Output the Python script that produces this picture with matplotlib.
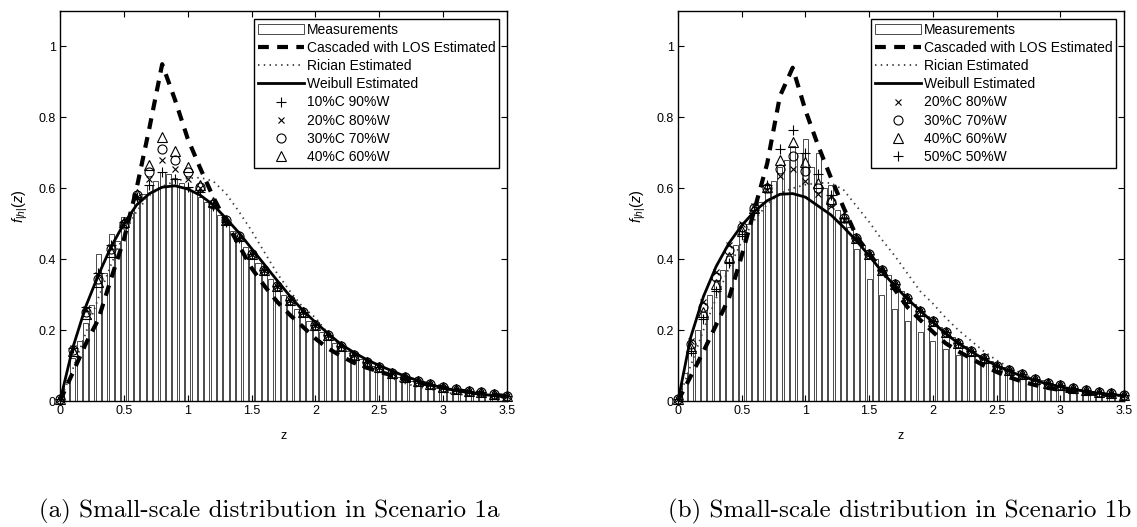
import numpy as np
import matplotlib
matplotlib.use("Agg")
import matplotlib.pyplot as plt

plt.rcParams['font.family'] = ['Liberation Sans', 'DejaVu Sans']
plt.rcParams['mathtext.fontset'] = 'custom'
plt.rcParams['mathtext.rm'] = 'Liberation Sans'
plt.rcParams['mathtext.it'] = 'Liberation Sans:italic'

# ---- data -------------------------------------------------------------
# curve / marker abscissa (step 0.1) and histogram bin centres (step 0.05)
z_pts = [round(0.1 * i, 2) for i in range(36)]
z_bins = [round(0.05 * i, 2) for i in range(1, 71)]

# Scenario 1a
meas_a = [0.06, 0.12, 0.17, 0.22, 0.27, 0.415, 0.36, 0.47, 0.45, 0.52,
          0.53, 0.575, 0.585, 0.61, 0.62, 0.645, 0.64, 0.63, 0.615, 0.60,
          0.59, 0.575, 0.56, 0.545, 0.525, 0.50, 0.48, 0.455, 0.435, 0.41,
          0.39, 0.365, 0.345, 0.32, 0.30, 0.28, 0.26, 0.245, 0.225, 0.21,
          0.195, 0.18, 0.165, 0.152, 0.14, 0.128, 0.118, 0.108, 0.098, 0.09,
          0.082, 0.075, 0.068, 0.062, 0.056, 0.05, 0.046, 0.042, 0.038, 0.034,
          0.031, 0.028, 0.025, 0.023, 0.021, 0.019, 0.017, 0.015, 0.014, 0.012]
casc_a = [0.0, 0.08, 0.16, 0.23, 0.345, 0.455, 0.60, 0.77, 0.95, 0.85,
          0.74, 0.655, 0.575, 0.505, 0.44, 0.375, 0.325, 0.28, 0.243, 0.21,
          0.176, 0.148, 0.127, 0.108, 0.094, 0.083, 0.072, 0.062, 0.053, 0.045,
          0.038, 0.031, 0.026, 0.021, 0.017, 0.014]
rice_a = [0.0, 0.09, 0.19, 0.29, 0.385, 0.47, 0.535, 0.58, 0.605, 0.62,
          0.628, 0.63, 0.62, 0.585, 0.535, 0.48, 0.42, 0.36, 0.31, 0.265,
          0.235, 0.19, 0.155, 0.125, 0.10, 0.08, 0.064, 0.05, 0.04, 0.032,
          0.025, 0.02, 0.016, 0.013, 0.01, 0.008]
weib_a = [0.0, 0.15, 0.265, 0.355, 0.435, 0.50, 0.553, 0.585, 0.603, 0.607,
          0.598, 0.58, 0.553, 0.515, 0.475, 0.43, 0.385, 0.34, 0.296, 0.256,
          0.222, 0.19, 0.16, 0.137, 0.117, 0.10, 0.085, 0.07, 0.058, 0.046,
          0.037, 0.03, 0.024, 0.019, 0.015, 0.012]
mix10_a = [0.005, 0.15, 0.265, 0.36, 0.44, 0.505, 0.575, 0.61, 0.645, 0.625,
           0.605, 0.59, 0.55, 0.505, 0.46, 0.415, 0.37, 0.325, 0.285, 0.25,
           0.215, 0.185, 0.155, 0.13, 0.11, 0.095, 0.08, 0.067, 0.056, 0.047,
           0.04, 0.034, 0.028, 0.024, 0.02, 0.015]
mix20_a = [0.005, 0.15, 0.26, 0.355, 0.435, 0.50, 0.575, 0.625, 0.68, 0.655,
           0.625, 0.60, 0.555, 0.505, 0.46, 0.415, 0.37, 0.325, 0.285, 0.25,
           0.215, 0.185, 0.155, 0.13, 0.11, 0.095, 0.08, 0.067, 0.056, 0.047,
           0.04, 0.034, 0.028, 0.024, 0.02, 0.015]
mix30_a = [0.005, 0.145, 0.25, 0.345, 0.43, 0.50, 0.58, 0.645, 0.71, 0.68,
           0.645, 0.605, 0.555, 0.51, 0.465, 0.415, 0.37, 0.325, 0.285, 0.25,
           0.215, 0.185, 0.155, 0.13, 0.11, 0.095, 0.08, 0.067, 0.056, 0.047,
           0.04, 0.034, 0.028, 0.024, 0.02, 0.015]
mix40_a = [0.005, 0.14, 0.245, 0.335, 0.42, 0.505, 0.585, 0.665, 0.745, 0.705,
           0.66, 0.61, 0.56, 0.51, 0.465, 0.415, 0.37, 0.325, 0.285, 0.25,
           0.215, 0.185, 0.155, 0.13, 0.11, 0.095, 0.08, 0.067, 0.056, 0.047,
           0.04, 0.034, 0.028, 0.024, 0.02, 0.015]

# Scenario 1b
meas_b = [0.08, 0.14, 0.20, 0.25, 0.30, 0.34, 0.37, 0.41, 0.44, 0.48,
          0.50, 0.54, 0.56, 0.60, 0.62, 0.66, 0.68, 0.72, 0.70, 0.74,
          0.66, 0.70, 0.60, 0.61, 0.54, 0.52, 0.49, 0.43, 0.44, 0.345,
          0.40, 0.30, 0.355, 0.26, 0.31, 0.225, 0.275, 0.195, 0.24, 0.17,
          0.21, 0.147, 0.18, 0.13, 0.155, 0.13, 0.13, 0.11, 0.112, 0.095,
          0.095, 0.08, 0.08, 0.068, 0.068, 0.058, 0.058, 0.048, 0.048, 0.04,
          0.04, 0.034, 0.034, 0.028, 0.028, 0.023, 0.023, 0.019, 0.019, 0.016]
casc_b = [0.0, 0.07, 0.14, 0.215, 0.29, 0.41, 0.54, 0.67, 0.86, 0.94,
          0.82, 0.72, 0.63, 0.545, 0.465, 0.415, 0.37, 0.315, 0.265, 0.229,
          0.195, 0.163, 0.14, 0.12, 0.10, 0.082, 0.067, 0.055, 0.045, 0.037,
          0.031, 0.026, 0.022, 0.019, 0.016, 0.014]
rice_b = [0.0, 0.10, 0.20, 0.29, 0.375, 0.45, 0.51, 0.555, 0.585, 0.60,
          0.61, 0.615, 0.615, 0.595, 0.55, 0.505, 0.455, 0.41, 0.36, 0.31,
          0.275, 0.235, 0.20, 0.17, 0.14, 0.115, 0.095, 0.077, 0.062, 0.05,
          0.04, 0.032, 0.025, 0.02, 0.016, 0.013]
weib_b = [0.0, 0.18, 0.295, 0.38, 0.445, 0.495, 0.535, 0.565, 0.583, 0.585,
          0.575, 0.55, 0.525, 0.49, 0.452, 0.41, 0.365, 0.325, 0.288, 0.255,
          0.222, 0.19, 0.163, 0.14, 0.118, 0.10, 0.084, 0.07, 0.058, 0.048,
          0.04, 0.033, 0.027, 0.022, 0.018, 0.015]
mix20_b = [0.005, 0.17, 0.28, 0.365, 0.44, 0.50, 0.55, 0.595, 0.635, 0.655,
           0.62, 0.585, 0.55, 0.51, 0.46, 0.415, 0.37, 0.33, 0.29, 0.255,
           0.225, 0.195, 0.165, 0.14, 0.12, 0.10, 0.088, 0.075, 0.062, 0.052,
           0.044, 0.036, 0.03, 0.026, 0.022, 0.017]
mix30_b = [0.005, 0.16, 0.265, 0.35, 0.425, 0.49, 0.545, 0.60, 0.655, 0.69,
           0.65, 0.60, 0.56, 0.515, 0.46, 0.415, 0.37, 0.33, 0.29, 0.255,
           0.225, 0.195, 0.165, 0.14, 0.12, 0.10, 0.088, 0.075, 0.062, 0.052,
           0.044, 0.036, 0.03, 0.026, 0.022, 0.017]
mix40_b = [0.005, 0.15, 0.25, 0.33, 0.405, 0.48, 0.545, 0.605, 0.68, 0.73,
           0.675, 0.615, 0.57, 0.52, 0.46, 0.415, 0.37, 0.33, 0.29, 0.255,
           0.225, 0.195, 0.165, 0.14, 0.12, 0.10, 0.088, 0.075, 0.062, 0.052,
           0.044, 0.036, 0.03, 0.026, 0.022, 0.017]
mix50_b = [0.005, 0.14, 0.23, 0.31, 0.39, 0.47, 0.54, 0.61, 0.71, 0.765,
           0.70, 0.64, 0.58, 0.515, 0.46, 0.415, 0.37, 0.33, 0.29, 0.255,
           0.225, 0.195, 0.165, 0.14, 0.12, 0.10, 0.088, 0.075, 0.062, 0.052,
           0.044, 0.036, 0.03, 0.026, 0.022, 0.017]

xticks = [0, 0.5, 1, 1.5, 2, 2.5, 3, 3.5]
yticks = [0, 0.2, 0.4, 0.6, 0.8, 1]
ytick_labels = ['0', '0.2', '0.4', '0.6', '0.8', '1']
xtick_labels = ['0', '0.5', '1', '1.5', '2', '2.5', '3', '3.5']
captions = ['(a) Small-scale distribution in Scenario 1a',
            '(b) Small-scale distribution in Scenario 1b']

panels = [
    dict(meas=meas_a, casc=casc_a, rice=rice_a, weib=weib_a,
         mix=[(mix10_a, '+', '10%C 90%W'), (mix20_a, 'x', '20%C 80%W'),
              (mix30_a, 'o', '30%C 70%W'), (mix40_a, '^', '40%C 60%W')]),
    dict(meas=meas_b, casc=casc_b, rice=rice_b, weib=weib_b,
         mix=[(mix20_b, 'x', '20%C 80%W'), (mix30_b, 'o', '30%C 70%W'),
              (mix40_b, '^', '40%C 60%W'), (mix50_b, '+', '50%C 50%W')]),
]

# ---- figure -----------------------------------------------------------
W, H = 1137, 527
fig = plt.figure(figsize=(W / 100, H / 100), dpi=100)
axes_px = [(60, 507), (678, 1124)]
caption_x = [269, 900]
top_px, bot_px = 11, 401

marker_sizes = {'+': 7, 'x': 5, 'o': 6.5, '^': 6.5}

for (x0, x1), cx, p, cap in zip(axes_px, caption_x, panels, captions):
    ax = fig.add_axes([x0 / W, 1 - bot_px / H, (x1 - x0) / W, (bot_px - top_px) / H])
    h_bar = ax.bar(z_bins, p['meas'], width=0.04, color='white',
                   edgecolor='#1a1a1a', linewidth=0.55, label='Measurements',
                   zorder=1)
    h_casc, = ax.plot(z_pts, p['casc'], color='black', lw=3.0, dashes=(2.6, 2.0),
                      label='Cascaded with LOS Estimated', zorder=3)
    h_rice, = ax.plot(z_pts, p['rice'], color='#3a3a3a', lw=1.3,
                      linestyle=(0, (0.8, 2.4)), label='Rician Estimated', zorder=2)
    h_weib, = ax.plot(z_pts, p['weib'], color='black', lw=2.0,
                      label='Weibull Estimated', zorder=4)
    handles = [h_bar, h_casc, h_rice, h_weib]
    for vals, mk, lab in p['mix']:
        h, = ax.plot(z_pts, vals, linestyle='none', marker=mk, ms=marker_sizes[mk],
                     mfc='none', mec='black', mew=0.8, label=lab, zorder=5,
                     clip_on=False)
        handles.append(h)

    ax.set_xlim(0, 3.5)
    ax.set_ylim(0, 1.1)
    ax.set_xticks(xticks)
    ax.set_xticklabels(xtick_labels)
    ax.set_yticks(yticks)
    ax.set_yticklabels(ytick_labels)
    ax.tick_params(direction='in', length=4, width=0.8, top=True, right=True,
                   labelsize=9, pad=3)
    for s in ax.spines.values():
        s.set_linewidth(1.0)
    ax.set_xlabel('z', fontsize=9, labelpad=9)
    ax.set_ylabel(r'$f_{|h|}(z)$', fontsize=10.5, labelpad=6)

    leg = ax.legend(handles=handles, loc='upper right', fontsize=10, numpoints=1,
                    handlelength=3.3, handletextpad=0.2, labelspacing=0.3,
                    borderpad=0.3, borderaxespad=0.55, fancybox=False,
                    framealpha=1, edgecolor='black')
    leg.get_frame().set_linewidth(1.0)

    fig.text(cx / W, 1 - 511 / H, cap, ha='center', va='center',
             fontsize=18, family='cmr10')

fig.savefig('out.png', dpi=100)
